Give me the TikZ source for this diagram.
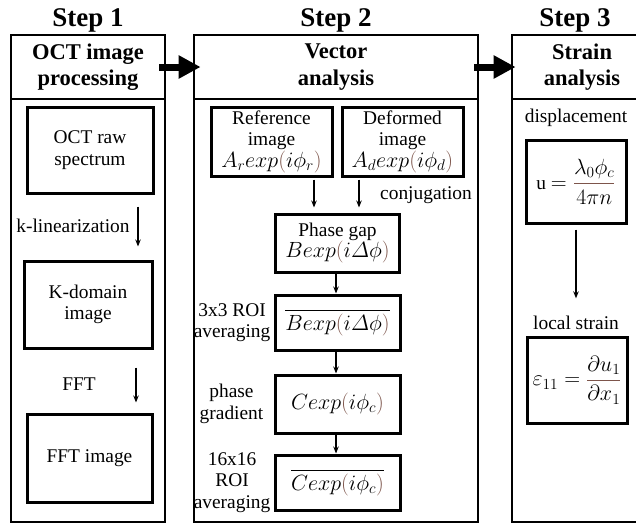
\documentclass[tikz,border=0pt]{standalone}
\usepackage{fix-cm}
\usepackage{fontspec}
\setmainfont{Liberation Serif}
\usepackage{amsmath}
\usepackage{xcolor}
\usetikzlibrary{arrows.meta,positioning}
\definecolor{mathbrown}{RGB}{125,85,75}
\newcommand{\pbr}[1]{{\color{mathbrown}(}#1{\color{mathbrown})}}
\newcommand{\eqn}[1]{{\fontsize{22}{21.5}\selectfont$#1$}}

\begin{document}
\begin{tikzpicture}[x=1pt, y=-1pt,
    every node/.style={font=\fontsize{19.4}{21.5}\selectfont, inner sep=0pt},
    title/.style={font=\fontsize{27}{30}\selectfont\bfseries},
    header/.style={draw, line width=2.8pt, align=center, font=\fontsize{22.5}{26.5}\selectfont\bfseries},
    procbox/.style={draw, line width=3pt, align=center},
    flow/.style={line width=1.3pt, -{Stealth[length=7pt, width=5.5pt]}},
    bigflow/.style={line width=7pt, -{Triangle[length=22pt, width=22pt]}}]
    \clip (0,0) rectangle (636,525);

    % Step titles
    \foreach \x/\n in {88/1, 336/2, 575/3} {
        \node[title, anchor=base] (title\n) at (\x,26) {Step \n};
    }

    % Column frames
    \draw[line width=2.8pt] (11,99) rectangle (165,522);
    \draw[line width=2.8pt] (194,99) rectangle (478,522);
    \draw[line width=2.8pt] (512,99) rectangle (652,522);
    \node[header, minimum width=154, minimum height=64] (hd1) at (88,67) {OCT image\\processing};
    \node[header, minimum width=284, minimum height=64] (hd2) at (336,67) {Vector\\analysis};
    \node[header, minimum width=140, minimum height=64] (hd3) at (582,67) {Strain\\analysis};

    % Links between steps
    \draw[bigflow] ([xshift=-7]hd1.east) -- ([xshift=8]hd2.west);
    \draw[bigflow] ([xshift=-5]hd2.east) -- ([xshift=5]hd3.west);

    % Step 1: OCT image processing
    \node[procbox, minimum width=126, minimum height=86] (rawspec) at (90,150) {OCT raw\\spectrum};
    \node[procbox, minimum width=128, minimum height=87] (kdomain) at (88,304.5) {K-domain\\image};
    \node[procbox, minimum width=125, minimum height=88] (fftimg) at (89.5,458) {FFT image};
    \node (klin) at (73,226) {k-linearization};
    \node (fftlbl) at (79,384) {FFT};
    \draw[flow, shorten <=12, shorten >=13] ([xshift=48]rawspec.south) -- ([xshift=50]kdomain.north);
    \draw[flow, shorten <=18, shorten >=10] ([xshift=48]kdomain.south) -- ([xshift=46.5]fftimg.north);

    % Step 2: vector analysis
    \node[procbox, minimum width=121, minimum height=69] (refimg) at (271.5,141.5) {Reference\\image\\\eqn{A_r exp\pbr{i\phi_r}}};
    \node[procbox, minimum width=121, minimum height=69] (defimg) at (402.5,141.5) {Deformed\\image\\\eqn{A_d exp\pbr{i\phi_d}}};
    \node (conj) at (426,195) {conjugation};
    \node[procbox, minimum width=124, minimum height=58] (phasegap) at (337.5,243) {Phase gap\\\eqn{Bexp\pbr{i\varDelta\phi}}};
    \node[procbox, minimum width=125, minimum height=55] (avgB) at (337.5,322.5) {\eqn{\overline{Bexp\pbr{i\varDelta\phi}}}};
    \node[procbox, minimum width=125, minimum height=58] (cexp) at (337.5,404) {\eqn{Cexp\pbr{i\phi_c}}};
    \node[procbox, minimum width=125, minimum height=55] (avgC) at (337.5,482.5) {\eqn{\overline{Cexp\pbr{i\phi_c}}}};
    \node[align=center, left=3 of avgB] (avgBlbl) {3x3 ROI\\averaging};
    \node[align=center, left=10 of cexp] (gradlbl) {phase\\gradient};
    \node[align=center, left=3 of avgC] (avgClbl) {16x16\\ROI\\averaging};
    \draw[flow, shorten <=2, shorten >=5] ([xshift=42.5]refimg.south) -- ([xshift=-23.5]phasegap.north);
    \draw[flow, shorten <=2, shorten >=5] ([xshift=-43.5]defimg.south) -- ([xshift=21.5]phasegap.north);
    \foreach \a/\b in {phasegap/avgB, avgB/cexp, cexp/avgC} {
        \draw[flow] ([xshift=-1.5]\a.south) -- ([xshift=-1.5]\b.north);
    }

    % Step 3: strain analysis
    \node[procbox, minimum width=100, minimum height=83] (ubox) at (576,181.5)
        {u \eqn{= {\color{mathbrown}\dfrac{\color{black}\lambda_0\phi_c}{\color{black}4\pi n}}}};
    \node[procbox, minimum width=100, minimum height=86] (epsbox) at (577,380)
        {\eqn{\varepsilon_{11} = {\color{mathbrown}\dfrac{\color{black}\partial u_1}{\color{black}\partial x_1}}}};
    \node[anchor=base] (displbl) at (576,122) {displacement};
    \node[anchor=base] (strainlbl) at (576,329) {local strain};
    \draw[flow, shorten <=5, shorten >=17] (ubox.south) -- (strainlbl.north);
\end{tikzpicture}
\end{document}
